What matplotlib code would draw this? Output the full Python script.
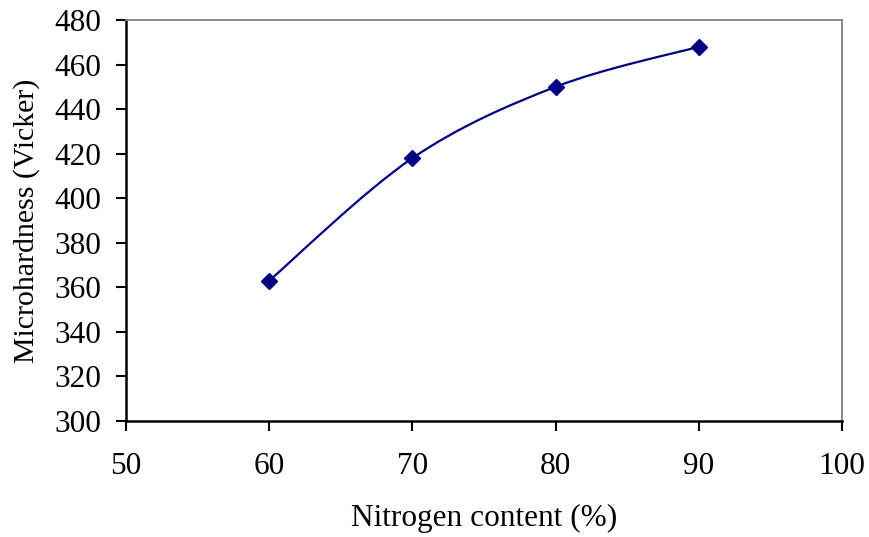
import matplotlib.pyplot as plt
from matplotlib.path import Path
from matplotlib.patches import PathPatch

plt.rcParams['font.family'] = ['Liberation Serif', 'DejaVu Serif']

# data
nitrogen = [60, 70, 80, 90]
hardness = [363, 418, 450, 468]

fig = plt.figure(figsize=(8.69, 5.37), dpi=100)
ax = fig.add_axes([126 / 869, 1 - 421 / 537, (842 - 126) / 869, (421 - 20) / 537])

# smoothed line like a spreadsheet chart (bezier through the points)
pts = list(zip(nitrogen, hardness))
verts = [pts[0]]
codes = [Path.MOVETO]
n = len(pts)
for i in range(n - 1):
    p0 = pts[i - 1] if i > 0 else pts[i]
    p1 = pts[i]
    p2 = pts[i + 1]
    p3 = pts[i + 2] if i + 2 < n else pts[i + 1]
    c1 = (p1[0] + (p2[0] - p0[0]) / 6, p1[1] + (p2[1] - p0[1]) / 6)
    c2 = (p2[0] - (p3[0] - p1[0]) / 6, p2[1] - (p3[1] - p1[1]) / 6)
    verts += [c1, c2, p2]
    codes += [Path.CURVE4] * 3
ax.add_patch(PathPatch(Path(verts, codes), facecolor='none', edgecolor='#000080', lw=1.6))
ax.plot(nitrogen, hardness, linestyle='none', marker='D', markersize=8, color='#000080')

ax.set_xlim(50, 100)
ax.set_ylim(300, 480)
ax.set_xticks(range(50, 101, 10))
ax.set_yticks(range(300, 481, 20))
ax.tick_params(direction='out', length=7, width=1.5, labelsize=22.5)
ax.tick_params(axis='y', pad=11)
ax.tick_params(axis='x', pad=15)

for side in ['left', 'bottom']:
    ax.spines[side].set_linewidth(1.8)
    ax.spines[side].set_color('black')
for side in ['top', 'right']:
    ax.spines[side].set_linewidth(1.3)
    ax.spines[side].set_color('#808080')

ax.set_xlabel('Nitrogen content (%)', fontsize=22.5, labelpad=17)
ax.set_ylabel('Microhardness (Vicker)', fontsize=21.5, labelpad=10)

fig.savefig('out.png', dpi=100)
